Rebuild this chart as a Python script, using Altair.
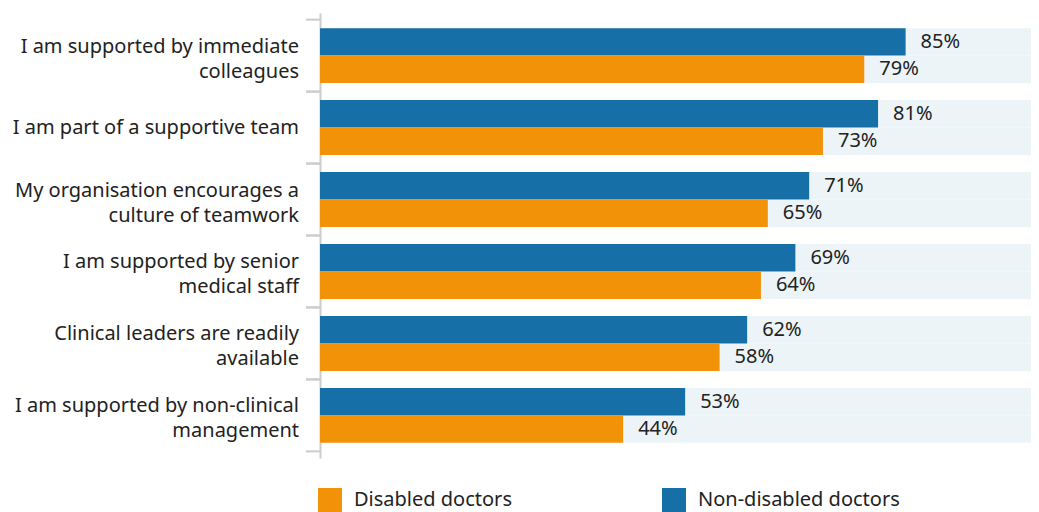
import altair as alt
import pandas as pd

categories = [
    "I am supported by immediate|colleagues",
    "I am part of a supportive team",
    "My organisation encourages a|culture of teamwork",
    "I am supported by senior|medical staff",
    "Clinical leaders are readily|available",
    "I am supported by non-clinical|management",
]
non_disabled = [85, 81, 71, 69, 62, 53]
disabled = [79, 73, 65, 64, 58, 44]
series_names = ["Non-disabled doctors", "Disabled doctors"]

XMAX = 103.2
BLUE = "#166fa6"
ORANGE = "#f29208"
BG = "#edf4f8"
FONT = "Noto Sans"

rows = []
for c, nd, d in zip(categories, non_disabled, disabled):
    rows.append({"cat": c, "series": "Non-disabled doctors", "value": nd, "label": f"{nd}%", "bg": XMAX})
    rows.append({"cat": c, "series": "Disabled doctors", "value": d, "label": f"{d}%", "bg": XMAX})
df = pd.DataFrame(rows)
cat_df = pd.DataFrame({"cat": categories})

W, H = 711, 445

y_enc = alt.Y(
    "cat:N",
    sort=categories,
    scale=alt.Scale(paddingInner=0, paddingOuter=0.092),
    axis=alt.Axis(
        title=None, ticks=False, labels=False, domain=True,
        domainColor="#cccccc", domainWidth=2,
    ),
)
yoff = alt.YOffset(
    "series:N", sort=series_names,
    scale=alt.Scale(paddingOuter=0.31, paddingInner=0),
)
x_scale = alt.Scale(domain=[0, XMAX], nice=False, zero=True)

base = alt.Chart(df)

bg = base.mark_bar(color=BG).encode(
    y=y_enc, yOffset=yoff,
    x=alt.X("bg:Q", scale=x_scale, axis=None),
)

bars = base.mark_bar().encode(
    y=y_enc, yOffset=yoff,
    x=alt.X("value:Q", scale=x_scale, axis=None),
    color=alt.Color(
        "series:N",
        scale=alt.Scale(domain=["Disabled doctors", "Non-disabled doctors"], range=[ORANGE, BLUE]),
        legend=alt.Legend(
            title=None, orient="none", legendX=-2, legendY=475, direction="horizontal",
            symbolType="square", symbolSize=576, symbolStrokeWidth=0,
            labelFontSize=20, labelFont=FONT, labelColor="#222222", labelOffset=12,
            columnPadding=150, labelLimit=400,
        ),
    ),
)

text = base.mark_text(align="left", baseline="middle", dx=15, fontSize=20, font=FONT, color="#222222").encode(
    y=y_enc, yOffset=yoff,
    x=alt.X("value:Q", scale=x_scale, axis=None),
    text="label:N",
)

label_style = dict(align="right", baseline="middle", lineBreak="|", lineHeight=25,
                   fontSize=20, font=FONT, color="#222222")
label_enc = dict(y=alt.Y("cat:N", sort=categories), x=alt.value(-21), text="cat:N")

labels_single = alt.Chart(cat_df).transform_filter(
    "indexof(datum.cat, '|') < 0"
).mark_text(**label_style).encode(**label_enc)
labels_multi = alt.Chart(cat_df).transform_filter(
    "indexof(datum.cat, '|') >= 0"
).mark_text(dy=-9, **label_style).encode(**label_enc)

ticks_top = alt.Chart(cat_df).mark_rule(color="#cccccc", strokeWidth=2).encode(
    y=alt.Y("cat:N", sort=categories, bandPosition=0),
    x=alt.value(-14), x2=alt.value(0),
)
ticks_bot = alt.Chart(cat_df).mark_rule(color="#cccccc", strokeWidth=2).encode(
    y=alt.Y("cat:N", sort=categories, bandPosition=1),
    x=alt.value(-14), x2=alt.value(0),
)

chart = alt.layer(bg, bars, text, labels_single, labels_multi, ticks_top, ticks_bot).properties(
    width=W, height=H,
    autosize=alt.AutoSizeParams(type="none"),
    padding={"left": 312, "top": 5, "right": 0, "bottom": 54},
).configure_view(stroke=None).configure_axis(grid=False)

chart.save("out.html", embed_options={"renderer": "svg", "actions": False})
